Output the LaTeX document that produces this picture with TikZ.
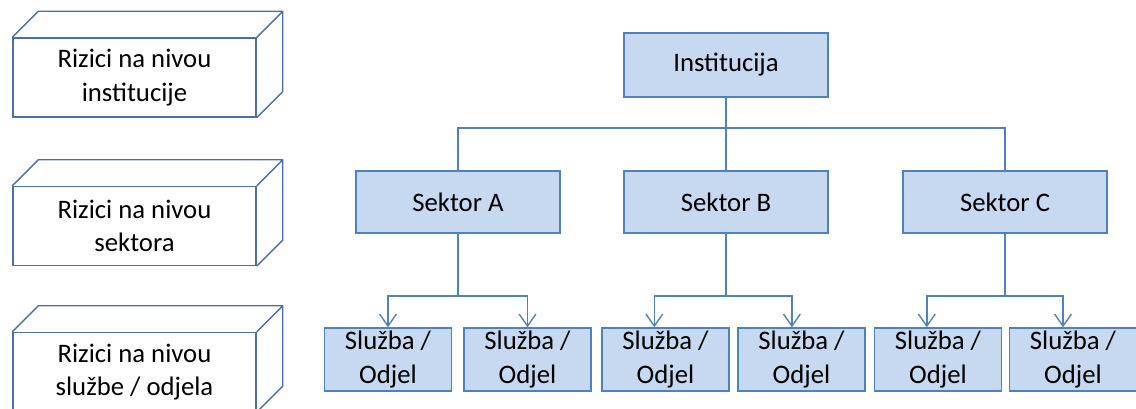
\documentclass[tikz,border=0pt]{standalone}
\usepackage{fontspec}
\setmainfont{Carlito}
\usetikzlibrary{arrows.meta,calc}
\definecolor{orgfill}{HTML}{C6D9F1}
\definecolor{orgline}{HTML}{4F81BD}
\definecolor{cubeline}{HTML}{4A6EA9}
\tikzset{
  riskbox/.style={draw=cubeline, line width=1pt, fill=white, minimum width=6.075cm,
    minimum height=1.975cm, align=center, inner sep=0pt},
  cube/.style={draw=cubeline, line width=1pt, line join=round},
  orgbox/.style={draw=orgline, line width=1pt, fill=orgfill, minimum width=5.1cm,
    minimum height=1.55cm, align=center, inner sep=0pt},
  unitbox/.style={orgbox, minimum width=3.175cm, minimum height=1.575cm},
  conn/.style={draw=orgline, line width=1pt},
  arr/.style={conn, -{Straight Barb[length=3mm,width=4.2mm]}}
}
\begin{document}
\begin{tikzpicture}[x=0.025cm, y=-0.025cm, font=\fontsize{19}{24}\selectfont]
			%%%%% FRAME %%%%%
			\path[use as bounding box, clip] (0,0) rectangle (1136,408);
			
			%%%%% RISK LEVELS %%%%%
			\node[riskbox] (r1) at (134.5,77.5) {Rizici na nivou\\institucije};
			\node[riskbox] (r2) at (134.5,226) {Rizici na nivou\\sektora};
			\node[riskbox] (r3) at (134.5,372) {Rizici na nivou\\službe / odjela};
			\foreach \r in {r1,r2,r3}{
				\draw[cube] (\r.north west) -- ++(26,-26) -- ([shift={(26,-26)}]\r.north east)
					-- (\r.north east);
				\draw[cube] ([shift={(26,-26)}]\r.north east) -- ([shift={(26,-26)}]\r.south east)
					-- (\r.south east);
			}
			
			%%%%% ORGANIZATION %%%%%
			\node[orgbox, minimum height=1.6cm] (inst) at (726,65) {Institucija};
			\node[orgbox] (secA) at (458,202) {Sektor A};
			\node[orgbox] (secB) at (726,202) {Sektor B};
			\node[orgbox] (secC) at (1005,202) {Sektor C};
			
			\node[unitbox] (sl1) at (388,359.5) {Služba /\\Odjel};
			\node[unitbox] (sl2) at (527.5,359.5) {Služba /\\Odjel};
			\node[unitbox] (sl3) at (665.5,359.5) {Služba /\\Odjel};
			\node[unitbox] (sl4) at (801.5,359.5) {Služba /\\Odjel};
			\node[unitbox] (sl5) at (938,359.5) {Služba /\\Odjel};
			\node[unitbox] (sl6) at (1073,359.5) {Služba /\\Odjel};
			
			%%%%% CONNECTORS %%%%%
			\coordinate (bus) at (0,128);
			\coordinate (fork) at (0,296);
			\draw[conn] (inst.south) -- (secB.north);
			\draw[conn] (secA.north) |- (bus -| secC.north) -- (secC.north);
			
			\draw[conn] (secA.south) -- (secA.south |- fork);
			\draw[arr] (secA.south |- fork) -| (sl1.north);
			\draw[arr] (secA.south |- fork) -| (sl2.north);
			
			\draw[conn] (secB.south) -- (secB.south |- fork);
			\draw[arr] (secB.south |- fork) -| ([xshift=-0.28cm]sl3.north);
			\draw[arr] (secB.south |- fork) -| ([xshift=-0.24cm]sl4.north);
			
			\draw[conn] (secC.south) -- (secC.south |- fork);
			\draw[arr] (secC.south |- fork) -| ([xshift=-0.28cm]sl5.north);
			\draw[arr] (secC.south |- fork) -| ([xshift=-0.25cm]sl6.north);
			
			%%%%% END %%%%%
		\end{tikzpicture}
\end{document}
